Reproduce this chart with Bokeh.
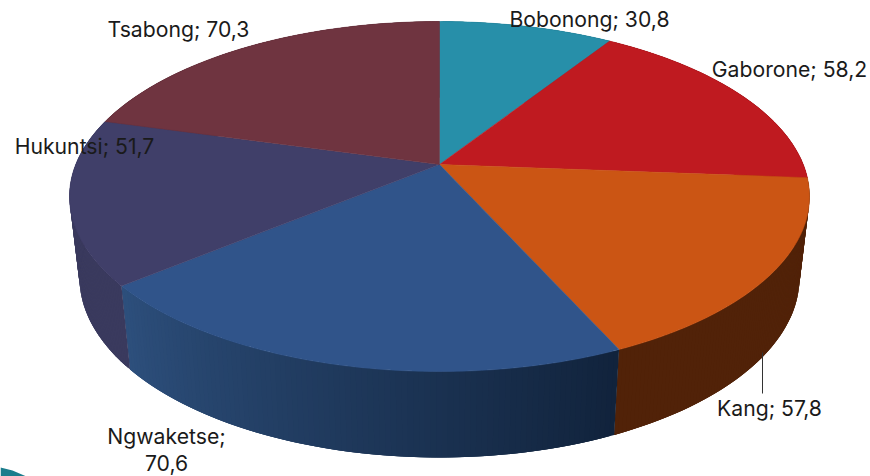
import numpy as np
from bokeh.plotting import figure
from bokeh.models import ColumnDataSource
from bokeh.core.properties import value
from bokeh.embed import file_html
from bokeh.resources import INLINE

categories = ["Bobonong", "Gaborone", "Kang", "Ngwaketse", "Hukuntsi", "Tsabong"]
values = [30.8, 58.2, 57.8, 70.6, 51.7, 70.3]
top_colors = ["#278fa9", "#bf1a20", "#cb5514", "#30548a", "#403f69", "#6f3440"]
wall_left = ["#1c6a7e", "#7d1115", "#512208", "#2d4f7c", "#3a3a5e", "#4e242d"]
wall_right = ["#1c6a7e", "#7d1115", "#512208", "#11233c", "#3a3a5e", "#4e242d"]

FONT = "Inter"
FONT_PX = "21.2px"
TEXT_COL = "#1a1a1a"

# geometry of the 3-D projection (pixels of the full picture)
CX, CY, RX, RY = 439.0, 196.0, 370.0, 175.0
BX, BY, BRX, BRY = 439.0, 277.0, 360.0, 180.0
D = 32.0 / 175.0


def project(theta, cx, cy, rx, ry):
    x, y = np.sin(theta), np.cos(theta)
    den = 1 + D * y
    xp = x * np.sqrt(1 - D * D) / den
    yp = (y + D) / den
    return cx + rx * xp, cy - ry * yp


def hexrgb(h):
    return np.array([int(h[i:i + 2], 16) for i in (1, 3, 5)], dtype=float)


def tohex(c):
    return "#%02x%02x%02x" % tuple(int(round(v)) for v in c)


p = figure(width=870, height=476, x_range=(0, 870), y_range=(476, 0),
           output_backend="svg", toolbar_location=None, min_border=0,
           outline_line_color=None, background_fill_color="white",
           border_fill_color="white")
p.xaxis.visible = False
p.yaxis.visible = False
p.grid.visible = False

edges = np.concatenate([[0.0], np.cumsum(values)]) / sum(values) * 2 * np.pi

# decorative swoosh, bottom-left corner
p.patch([0, 12, 26, 0], [467, 470, 476, 476], color="#1b7d8c", line_width=0)

# side walls: narrow overlapping quads, painted in angle order
xs, ys, cols = [], [], []
for i in range(len(values)):
    a, b = edges[i], edges[i + 1]
    cl, cr = hexrgb(wall_left[i]), hexrgb(wall_right[i])
    n = 100
    th = np.linspace(a, b, n + 1)
    tx, ty = project(th, CX, CY, RX, RY)
    bx, by = project(th, BX, BY, BRX, BRY)
    for j in range(n):
        k = min(j + 3, n)
        xs.append([tx[j], tx[k], bx[k], bx[j]])
        ys.append([ty[j], ty[k], by[k], by[j]])
        f = j / (n - 1)
        cols.append(tohex(cr * (1 - f) + cl * f))
p.patches("xs", "ys", source=ColumnDataSource(dict(xs=xs, ys=ys, c=cols)),
          fill_color="c", line_color=None)

# top faces
axs, ays = [], []
apx, apy = CX, CY - RY * D
for i in range(len(values)):
    th = np.linspace(edges[i], edges[i + 1], 120)
    ex, ey = project(th, CX, CY, RX, RY)
    axs.append([apx] + list(ex))
    ays.append([apy] + list(ey))
p.patches("xs", "ys", source=ColumnDataSource(dict(xs=axs, ys=ays, c=top_colors)),
          fill_color="c", line_color="c", line_width=0.5)

# leader line for Kang
p.line([762, 762], [352, 393], line_color="#333333", line_width=1)

# data labels
label_x = [589, 789, 769, 166, 84, 178]
label_y = [18, 68, 407, 449, 145, 28]
texts = []
for c, v in zip(categories, values):
    s = f"{v}".replace(".", ",")
    texts.append(f"{c};\n{s}" if c == "Ngwaketse" else f"{c}; {s}")
p.text(label_x, label_y, text=texts, text_font=value(FONT), text_font_size=value(FONT_PX),
       text_color=TEXT_COL, text_align="center", text_baseline="middle", text_line_height=1.02)

open("out.html", "w").write(file_html(p, INLINE))
